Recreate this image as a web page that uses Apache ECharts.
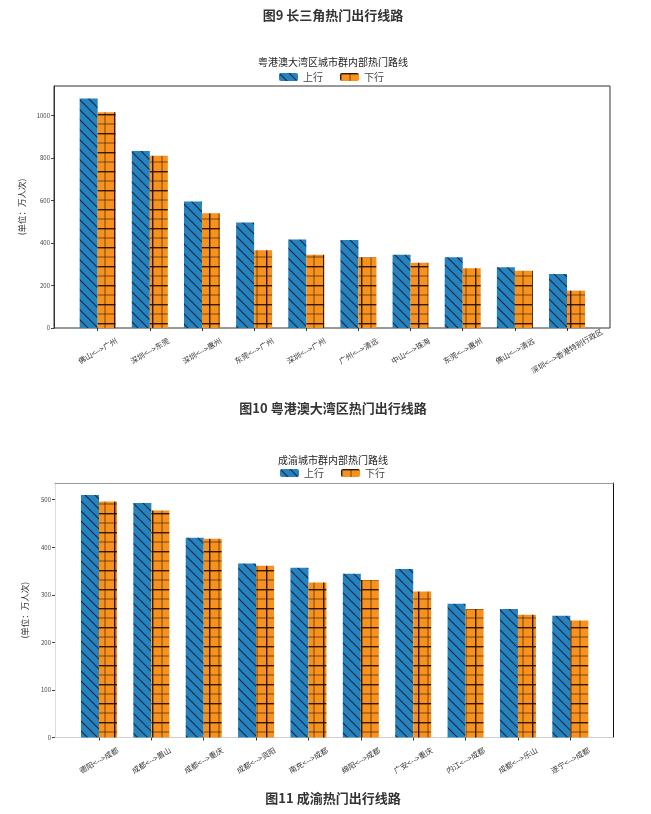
<!DOCTYPE html>
<html>
<head>
<meta charset="utf-8">
<script src="https://cdn.jsdelivr.net/npm/echarts@6/dist/echarts.min.js"></script>
<style>
html, body { margin: 0; padding: 0; background: #fff; }
#main { width: 651px; height: 814px; }
</style>
</head>
<body>
<div id="main"></div>
<script>
// 粤港澳大湾区城市群内部热门路线 (万人次)
var gbaRoutes = ['佛山<-->广州', '深圳<-->东莞', '深圳<-->惠州', '东莞<-->广州', '深圳<-->广州',
    '广州<-->清远', '中山<-->珠海', '东莞<-->惠州', '佛山<-->清远', '深圳<-->香港特别行政区'];
var gbaUp = [1081, 834, 596, 497, 417, 414, 345, 333, 286, 254];
var gbaDown = [1016, 811, 540, 366, 345, 333, 307, 281, 270, 176];
var gbaTicks = [0, 200, 400, 600, 800, 1000];

// 成渝城市群内部热门路线 (万人次)
var cyRoutes = ['德阳<-->成都', '成都<-->眉山', '成都<-->重庆', '成都<-->资阳', '南充<-->成都',
    '绵阳<-->成都', '广安<-->重庆', '内江<-->成都', '成都<-->乐山', '遂宁<-->成都'];
var cyUp = [510, 493, 420, 366, 357, 344, 354, 281, 270, 256];
var cyDown = [496, 477, 418, 361, 326, 331, 307, 270, 258, 246];
var cyTicks = [0, 100, 200, 300, 400, 500];

var FONT = 'Noto Sans CJK SC';

// matplotlib style hatches: '\\' for 上行, '+' for 下行
function hatchUp() {
    var c = document.createElement('canvas');
    c.width = 10; c.height = 10;
    var ctx = c.getContext('2d');
    ctx.fillStyle = '#2583bf';
    ctx.fillRect(0, 0, 10, 10);
    ctx.strokeStyle = '#16263d';
    ctx.lineWidth = 1.1;
    ctx.beginPath();
    for (var k = -10; k <= 10; k += 10) {
        ctx.moveTo(k - 1, -1);
        ctx.lineTo(k + 11, 11);
    }
    ctx.stroke();
    return {image: c, repeat: 'repeat'};
}
function hatchDown() {
    var s = 19;
    var c = document.createElement('canvas');
    c.width = s; c.height = s;
    var ctx = c.getContext('2d');
    ctx.fillStyle = '#f8921e';
    ctx.fillRect(0, 0, s, s);
    ctx.fillStyle = 'rgba(40,18,5,0.95)';
    ctx.fillRect(0, 0, s, 1.4);
    ctx.fillRect(0, 0, 1.4, s);
    ctx.fillStyle = 'rgba(40,18,5,0.6)';
    ctx.fillRect(0, 9.5, s, 1);
    ctx.fillRect(9.5, 0, 1, s);
    return {image: c, repeat: 'repeat'};
}
var upColor = hatchUp();
var downColor = hatchDown();

function caption(text, y) {
    return {
        text: text, left: 333, top: y - 8, textAlign: 'center', padding: 0,
        textStyle: {fontSize: 13, fontWeight: 'bold', color: '#333', fontFamily: FONT}
    };
}
function chartTitle(text, y) {
    return {
        text: text, left: 333, top: y - 6, textAlign: 'center', padding: 0,
        textStyle: {fontSize: 10, fontWeight: 'normal', color: '#222', fontFamily: FONT}
    };
}
function legend(x, y) {
    return {
        data: ['上行', '下行'], left: x, top: y, padding: 0,
        itemWidth: 19, itemHeight: 8, itemGap: 17,
        textStyle: {fontSize: 10, color: '#444', fontFamily: FONT}
    };
}
function hiddenValueX(grid, pos, lineColor) {
    return {
        gridIndex: grid, type: 'value', min: 0, max: 1, position: pos,
        axisLine: {show: !!lineColor, onZero: false, lineStyle: {color: lineColor || '#000', width: 1}},
        axisTick: {show: false}, axisLabel: {show: false}, splitLine: {show: false}
    };
}
function routeX(grid, routes) {
    return {
        gridIndex: grid, type: 'category', data: routes,
        axisLine: {show: false, onZero: false},
        axisTick: {show: true, alignWithLabel: true, length: 3, lineStyle: {color: '#333'}},
        axisLabel: {
            rotate: 30, align: 'center', verticalAlign: 'middle', margin: 23,
            fontSize: 7.5, color: '#333', fontFamily: FONT, interval: 0
        }
    };
}
function valueY(grid, max, ticks, lineColor) {
    return {
        gridIndex: grid, type: 'value', min: 0, max: max,
        name: '(单位：万人次)', nameLocation: 'middle', nameGap: 26,
        nameTextStyle: {fontSize: 8.5, color: '#333', fontFamily: FONT},
        axisLine: {show: true, onZero: false, lineStyle: {color: lineColor, width: 1}},
        axisTick: {show: true, length: 3, customValues: ticks, lineStyle: {color: '#444'}},
        axisLabel: {customValues: ticks, fontSize: 6, margin: 4, color: '#444', fontFamily: FONT,
            formatter: function (v) { return String(v); }},
        splitLine: {show: false}
    };
}
function hiddenY(grid, max) {
    return {gridIndex: grid, type: 'value', min: 0, max: max, show: false, splitLine: {show: false}};
}
function bars(name, x, y, data, color) {
    return {
        name: name, type: 'bar', xAxisIndex: x, yAxisIndex: y, data: data,
        barWidth: 18, barGap: '0%', itemStyle: {color: color}
    };
}

var myChart = echarts.init(document.getElementById('main'));
myChart.setOption({
    animation: false,
    textStyle: {fontFamily: FONT},
    title: [
        caption('图9 长三角热门出行线路', 17),
        chartTitle('粤港澳大湾区城市群内部热门路线', 63),
        caption('图10 粤港澳大湾区热门出行线路', 410),
        chartTitle('成渝城市群内部热门路线', 461),
        caption('图11 成渝热门出行线路', 800)
    ],
    legend: [legend(279, 72), legend(280, 468)],
    grid: [
        // 粤港澳: frame + bars
        {left: 54, right: 41, top: 86, bottom: 486, show: true, borderColor: '#333', borderWidth: 1},
        {left: 71.6, right: 57.9, top: 86, bottom: 486},
        // 成渝: frame + bars
        {left: 55, right: 37.7, top: 483, bottom: 76.5},
        {left: 72.8, right: 54.5, top: 483, bottom: 76.5}
    ],
    xAxis: [
        hiddenValueX(0, 'bottom'),
        routeX(1, gbaRoutes),
        hiddenValueX(2, 'bottom', '#d0d0d0'),
        hiddenValueX(2, 'top', '#999'),
        routeX(3, cyRoutes)
    ],
    yAxis: [
        valueY(0, 1140, gbaTicks, '#333'),
        hiddenY(1, 1140),
        valueY(2, 535, cyTicks, '#dcdcdc'),
        {gridIndex: 2, type: 'value', min: 0, max: 535, position: 'right',
            axisLine: {show: true, onZero: false, lineStyle: {color: '#111', width: 1}},
            axisTick: {show: false}, axisLabel: {show: false}, splitLine: {show: false}},
        hiddenY(3, 535)
    ],
    series: [
        bars('上行', 1, 1, gbaUp, upColor),
        bars('下行', 1, 1, gbaDown, downColor),
        bars('上行', 4, 4, cyUp, upColor),
        bars('下行', 4, 4, cyDown, downColor)
    ]
});
</script>
</body>
</html>
